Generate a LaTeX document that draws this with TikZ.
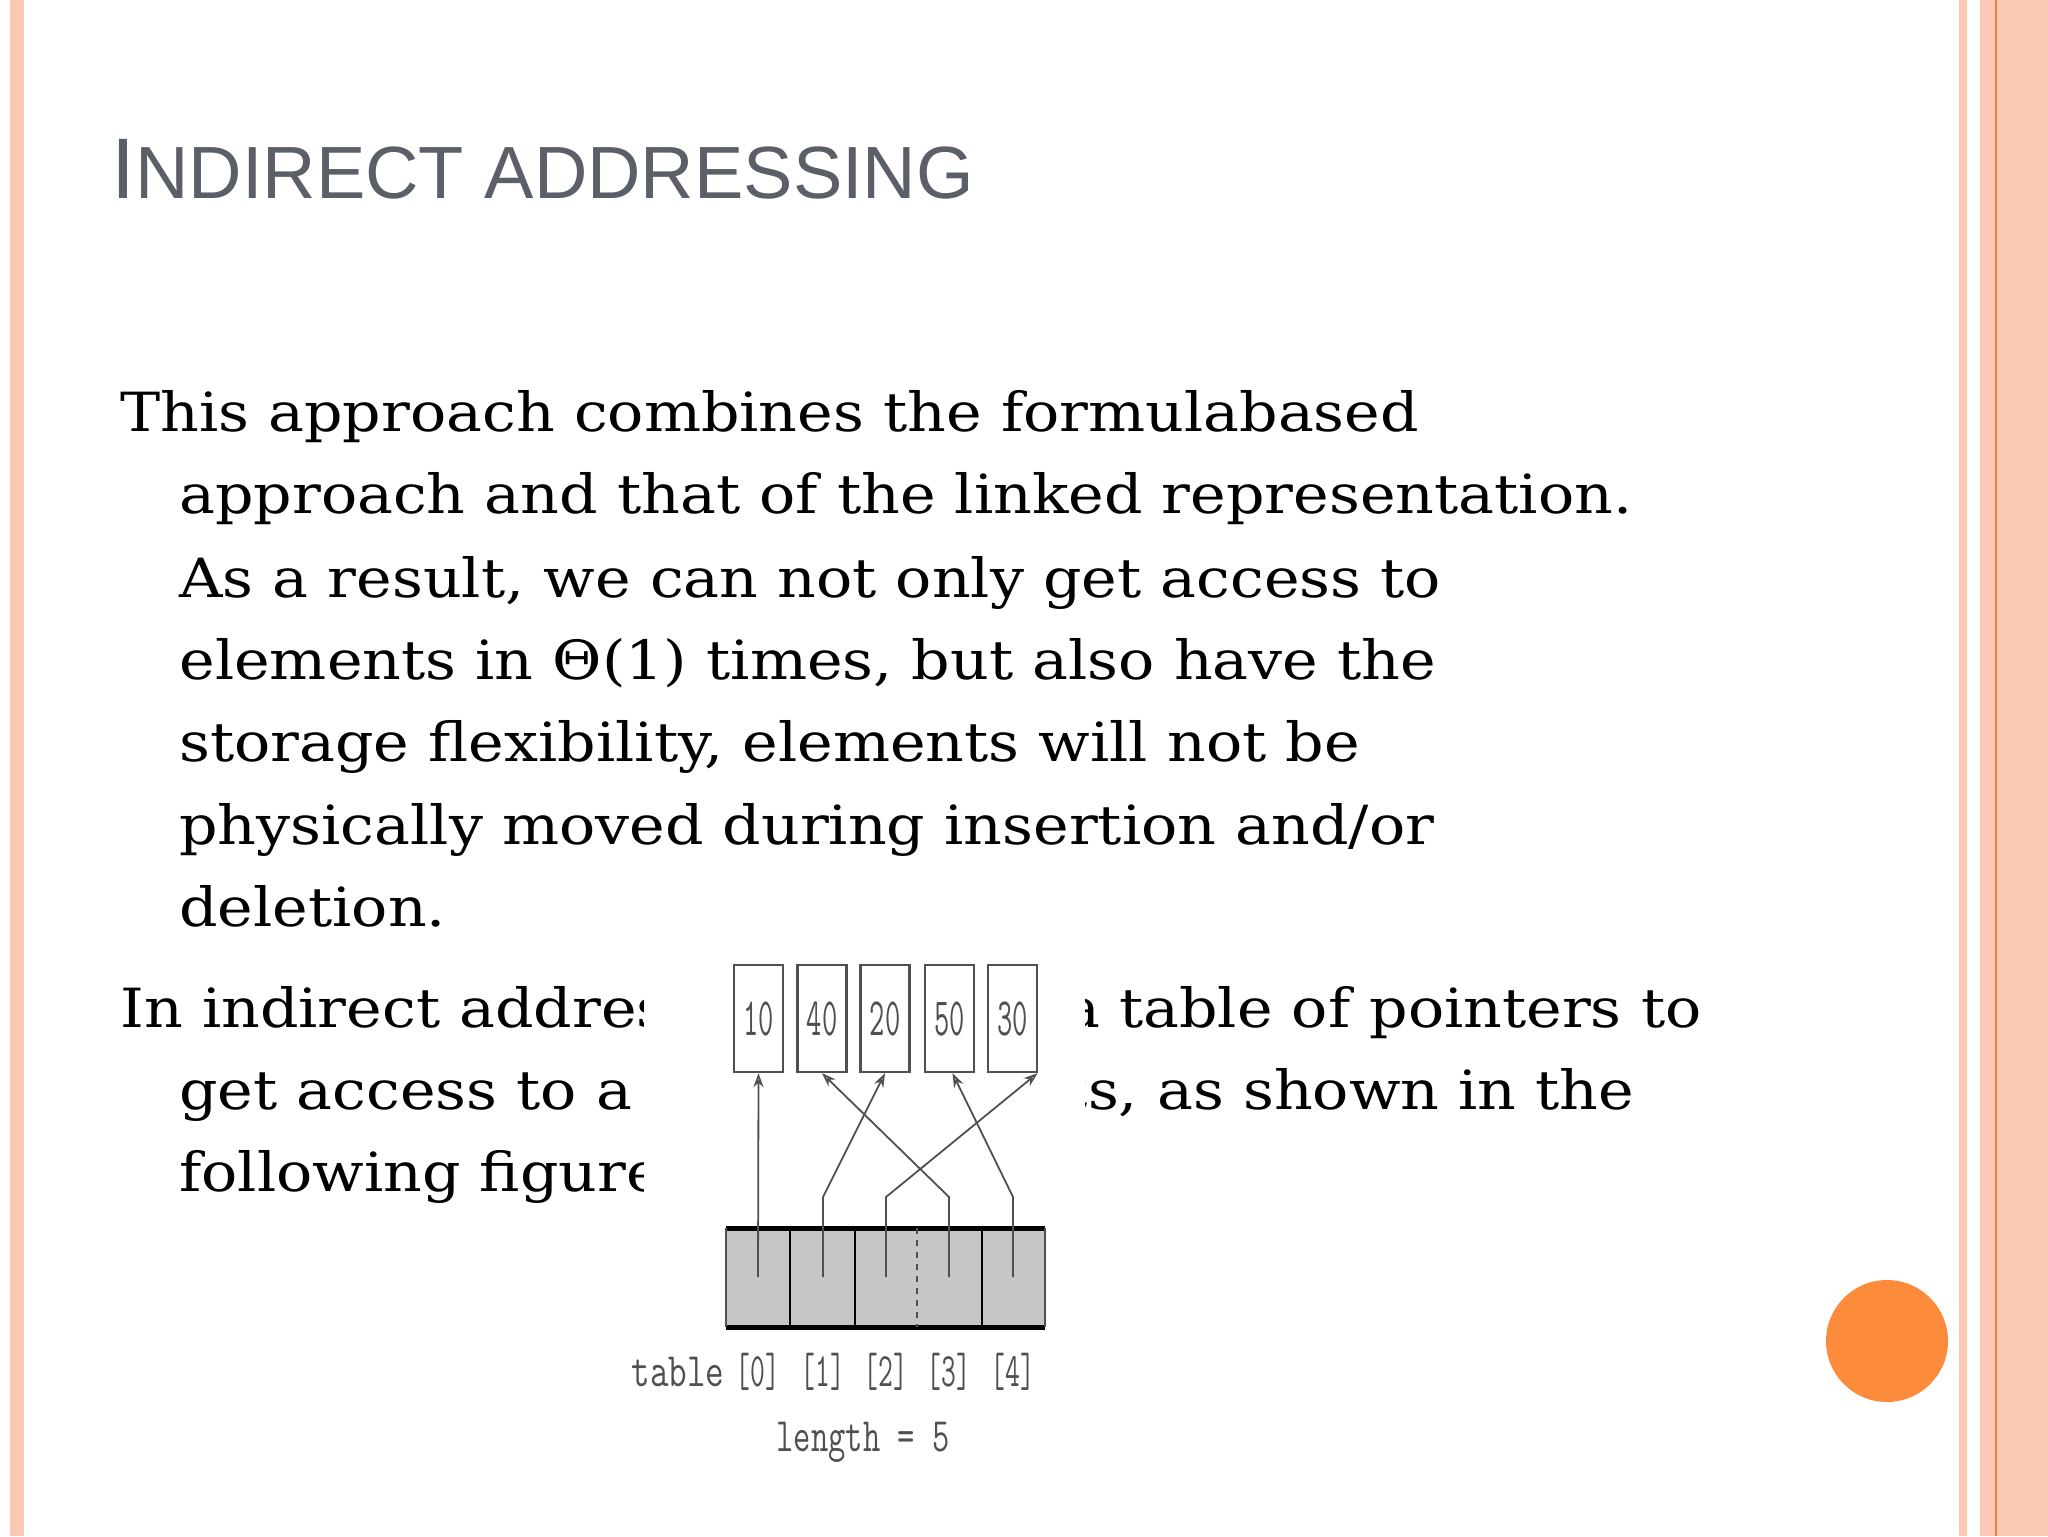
\documentclass[tikz,border=0pt]{standalone}
\usepackage{fontspec}
\setmainfont{DejaVu Serif}
\newfontfamily\titlefont{Liberation Sans}
\usetikzlibrary{arrows.meta}
\definecolor{peach}{HTML}{FAC8B3}
\definecolor{orangeline}{HTML}{F08040}
\definecolor{dot}{HTML}{FD8B3C}
\definecolor{titlegray}{HTML}{5B6068}
\definecolor{figgray}{HTML}{505050}
\newcommand{\wide}[1]{\scalebox{1.115}[1]{#1}}
\tikzset{
  body/.style={anchor=base west,inner sep=0,font=\fontsize{27}{27}\selectfont},
  valbox/.style={draw=figgray,line width=1.2pt,minimum width=24.5pt,minimum height=53.5pt,inner sep=0,font=\ttfamily\fontsize{27}{27}\selectfont,text=figgray},
  lbl/.style={inner sep=0,font=\ttfamily\fontsize{24}{24}\selectfont,text=figgray},
  ptr/.style={draw=figgray,line width=0.9pt,-{Stealth[length=7pt,width=5pt,open]}}
}
\begin{document}
\begin{tikzpicture}[x=0.5pt,y=-0.5pt]
\useasboundingbox (0,0) rectangle (2048,1536);
\fill[white] (0,0) rectangle (2048,1536);
% side bands
\fill[peach] (10,0) rectangle (24,1536);
\fill[peach] (1959,0) rectangle (1967,1536);
\fill[peach] (1980,0) rectangle (2048,1536);
\draw[orangeline,line width=1pt] (1996,0) -- (1996,1536);
% title
\node[anchor=base west,inner sep=0,text=titlegray] (title) at (111,198)
  {\titlefont\fontsize{43}{43}\selectfont I\fontsize{37}{37}\selectfont NDIRECT ADDRESSING};
% body
\node[body] (l1) at (120,431) {\wide{This approach combines the formulabased}};
\node[body] (l2) at (179,513) {\wide{approach and that of the linked representation.}};
\node[body] (l3) at (179,597) {\wide{As a result, we can not only get access to}};
\node[body] (l4) at (179,679) {\wide{elements in Θ(1) times, but also have the}};
\node[body] (l5) at (179,761) {\wide{storage flexibility, elements will not be}};
\node[body] (l6) at (179,844) {\wide{physically moved during insertion and/or}};
\node[body] (l7) at (179,926) {\wide{deletion.}};
\node[body] (l8) at (120,1027) {\wide{In indirect addressing, we use a table of pointers to}};
\node[body] (l9) at (179,1109) {\wide{get access to a list of elements, as shown in the}};
\node[body] (l10) at (179,1191) {\wide{following figure.}};
% figure area
\fill[white] (644,948) rectangle (1085,1480);
% value boxes
\node[valbox] (b10) at (758.5,1018.5) {\scalebox{0.55}[1]{10}};
\node[valbox] (b40) at (822,1018.5) {\scalebox{0.55}[1]{40}};
\node[valbox] (b20) at (885,1018.5) {\scalebox{0.55}[1]{20}};
\node[valbox] (b50) at (949.5,1018.5) {\scalebox{0.55}[1]{50}};
\node[valbox] (b30) at (1012.5,1018.5) {\scalebox{0.55}[1]{30}};
% table
\fill[gray!45] (726,1228) rectangle (1045,1327);
\draw[black,line width=2.5pt] (726,1228) -- (1045,1228);
\draw[black,line width=2.5pt] (726,1327) -- (1045,1327);
\draw[figgray,line width=0.8pt] (726,1228) -- (726,1327) (1045,1228) -- (1045,1327);
\draw[black,line width=1.2pt] (790,1228) -- (790,1327) (855,1228) -- (855,1327) (982,1228) -- (982,1327);
\draw[figgray,line width=0.6pt,dashed] (917,1228) -- (917,1327);
% pointers
\coordinate (p0) at (758,1277); \coordinate (p1) at (823,1277);
\coordinate (p2) at (886,1277); \coordinate (p3) at (949,1277);
\coordinate (p4) at (1013,1277);
\draw[ptr] (p0) -- (b10.south);
\draw[ptr] (p1) -- ++(0,-80) -- (b20.south);
\draw[ptr] (p2) -- ++(0,-80) -- ([xshift=12.5pt]b30.south);
\draw[ptr] (p3) -- ++(0,-80) -- (b40.south);
\draw[ptr] (p4) -- ++(0,-80) -- ([xshift=1.5pt]b50.south);
% labels
\node[lbl] (tbl) at (678,1372) {\scalebox{0.75}[1]{table}};
\node[lbl] (i0) at (758,1372) {\scalebox{0.6}[1]{[0]}};
\node[lbl] (i1) at (823,1372) {\scalebox{0.6}[1]{[1]}};
\node[lbl] (i2) at (886,1372) {\scalebox{0.6}[1]{[2]}};
\node[lbl] (i3) at (949,1372) {\scalebox{0.6}[1]{[3]}};
\node[lbl] (i4) at (1013,1372) {\scalebox{0.6}[1]{[4]}};
\node[lbl] (len) at (863,1442) {\scalebox{0.7}[1]{length = 5}};
% orange circle
\fill[dot] (1887,1341) circle (61);
\end{tikzpicture}
\end{document}
